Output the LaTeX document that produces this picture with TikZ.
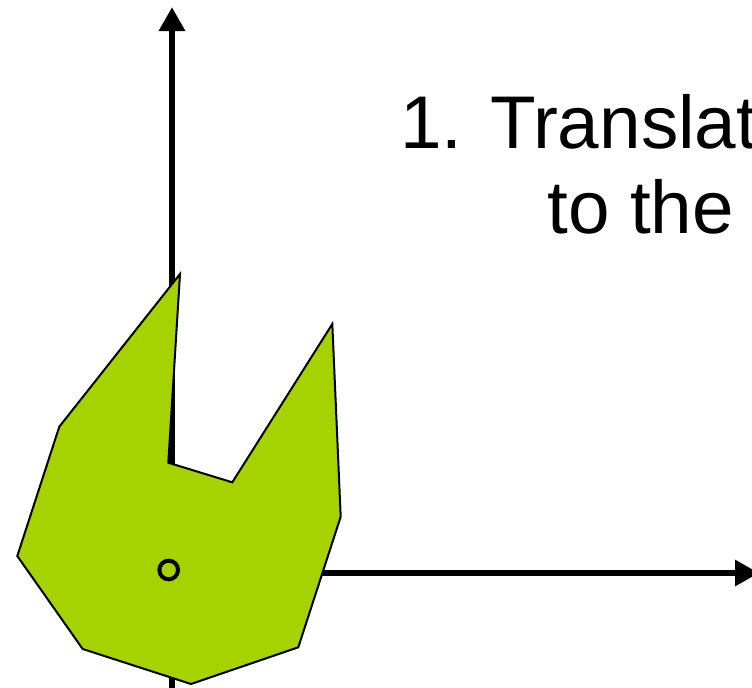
\documentclass[tikz,border=0pt]{standalone}
\usepackage{fontspec}
\setmainfont{Liberation Sans}
\usepackage{tikz}
\usetikzlibrary{arrows.meta}
\definecolor{shapegreen}{RGB}{166,210,0}

\begin{document}
\begin{tikzpicture}[
    x=0.75pt, y=-0.75pt,
    axis/.style={line width=4.8pt, -{Triangle[length=18pt,width=18.75pt]}},
    blob/.style={draw=black, line width=1.5pt, fill=shapegreen, line join=miter},
    pivot/.style={circle, draw=black, line width=3pt, minimum size=14pt, inner sep=0pt},
    caption/.style={font=\fontsize{56}{63.75}\selectfont, inner sep=0pt, anchor=base west},
  ]
    \useasboundingbox (0,0) rectangle (752,687);

    % ---------- axes ----------
    \coordinate (orig) at (172,573);
    \coordinate (ytop) at (172,7);
    \coordinate (ybot) at (172,690);
    \coordinate (xend) at (759,573);
    \draw[axis] (ybot) -- (ytop);
    \draw[axis] (orig) -- (xend);

    % ---------- object ----------
    \draw[blob] (180,274) -- (168.3,462.7) -- (232.3,482.3) -- (332.3,324)
      -- (340.7,516.7) -- (298.3,647.3) -- (191,684) -- (82.7,649)
      -- (17.3,556) -- (59.3,426.7) -- cycle;
    \node[pivot] (centre) at (168.7,570) {};

    % ---------- caption ----------
    \node[caption] (step1) at (400,148) {1. Translate};
    \node[caption] (step2) at (547,233) {to the};
\end{tikzpicture}
\end{document}
